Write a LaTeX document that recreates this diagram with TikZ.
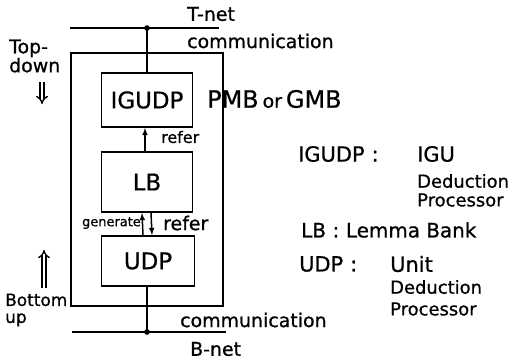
\documentclass[tikz,border=0pt]{standalone}
\usepackage{fontspec}
\setmainfont[FakeBold=0.8]{DejaVu Sans}
\usetikzlibrary{arrows, arrows.meta, math}

\tikzset{
  unitbox/.style={draw, line width=1.8pt, inner sep=0pt, minimum width=91bp,
    font=\fontsize{23}{23}\selectfont},
  txt/.style={inner sep=0pt, anchor=west, font=\fontsize{#1}{#1}\selectfont},
  bus/.style={line width=2pt},
  dblarrow/.style={double, double distance=2.6bp, line width=1.4pt, -{Implies[]}},
}

\begin{document}
\begin{tikzpicture}[x=1bp,y=-1bp]
\tikzmath{
\xl=71; \xr=223; \yt=53; \yb=306;
\ytop=28; \ybot=332; \xc=147;
}
\useasboundingbox (0,0) rectangle (521,359);

% buses
\coordinate (tdot) at (\xc,\ytop);
\coordinate (bdot) at (\xc,\ybot);
\draw[bus] (70,\ytop) -- (219,\ytop);
\draw[bus] (72,\ybot) -- (226,\ybot);
\fill (tdot) circle (2.8bp);
\fill (bdot) circle (2.8bp);

% PMB box
\draw[line width=2pt] (\xl,\yt) rectangle (\xr,\yb);

\node[unitbox, minimum height=54bp] (igudp) at (\xc,100) {IGUDP};
\node[unitbox, minimum height=60bp] (lb) at (\xc,182) {LB};
\node[unitbox, minimum height=50bp, minimum width=93bp] (udp) at (\xc+1,261) {UDP};

\draw[line width=1.8pt] (tdot) -- (igudp.north);
\draw[line width=1.8pt] (udp.south -| bdot) -- (bdot);

\draw[-latex, line width=1.5pt] ([xshift=-2bp]lb.north) -- ([xshift=-2bp]igudp.south);
\draw[-latex, line width=1.5pt] ([xshift=-5bp]udp.north) -- ([xshift=-5bp]lb.south);
\draw[-latex, line width=1.5pt] ([xshift=4bp]lb.south) -- ([xshift=4bp]udp.north);

\node[txt=16] (refer1) at (161,137) {refer};
\node[txt=13, anchor=east] (gen) at (141,223) {generate};
\node[txt=19] (refer2) at (163,223) {refer};

% nets
\node[txt=19] (tnet) at (187,14) {T-net};
\node[txt=19] (tcomm) at (187,41) {communication};
\node[txt=19] (bcomm) at (180,320) {communication};
\node[txt=19] (bnet) at (190,349) {B-net};
\node[txt=24] (pmb) at (207,99) {PMB\,{\fontsize{19}{19}\selectfont or}\,GMB};

% directions
\node[txt=19, align=left] (topdown) at (9,56) {Top-\\down};
\coordinate (td1) at (42,82);
\coordinate (td2) at (42,104);
\draw[dblarrow] (td1) -- (td2);
\coordinate (bu1) at (44,288);
\coordinate (bu2) at (44,250);
\draw[dblarrow] (bu1) -- (bu2);
\node[txt=17, align=left] (bottomup) at (5,310) {Bottom\\up};

% legend
\node[txt=21] (l1) at (298,154) {IGUDP\,\,:};
\node[txt=21] (l1a) at (417,154) {IGU};
\node[txt=18] (l1b) at (417,181) {Deduction};
\node[txt=18] (l1c) at (417,200) {Processor};
\node[txt=20] (l2) at (301,230) {LB\,\,:\,\,Lemma Bank};
\node[txt=21] (l3) at (299,264) {UDP\,\,:};
\node[txt=21] (l3a) at (390,264) {Unit};
\node[txt=18] (l3b) at (390,287) {Deduction};
\node[txt=18] (l3c) at (390,309) {Processor};
\end{tikzpicture}
\end{document}
